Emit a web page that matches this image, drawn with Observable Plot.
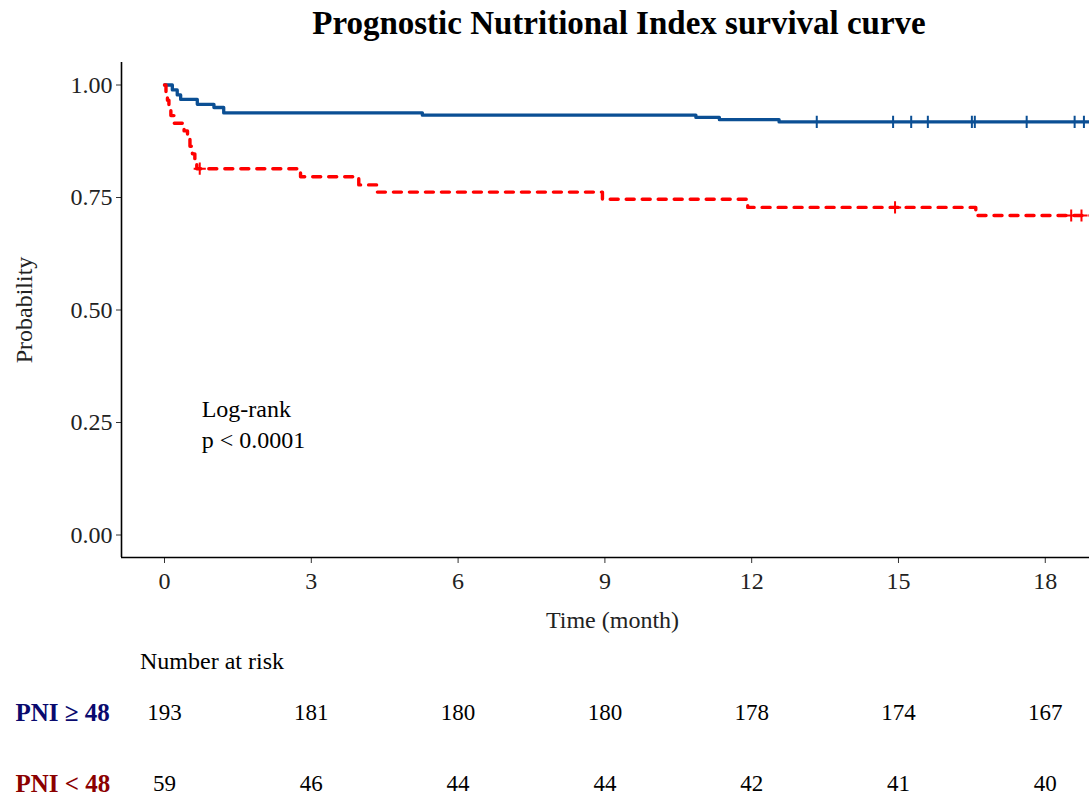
<!DOCTYPE html>
<html><head><meta charset="utf-8">
<script src="https://cdn.jsdelivr.net/npm/d3@7"></script>
<script src="https://cdn.jsdelivr.net/npm/@observablehq/plot@0.6"></script>
<style>
body{margin:0;background:#fff;overflow:hidden}
#wrap{position:relative;width:1089px;height:798px;overflow:hidden;font-family:"Liberation Serif","Times New Roman",serif;background:#fff}
#wrap svg{max-width:none !important}
#title{position:absolute;left:0;top:7px;width:1238px;text-align:center;font-weight:bold;font-size:33px;line-height:1;color:#000}
#risk{position:absolute;left:140px;top:649px;font-size:24px;line-height:1;color:#000}
#main{position:absolute;left:0;top:0;width:1103px;height:640px}
#table{position:absolute;left:0;top:640px;width:1103px;height:158px}
</style></head><body>
<div id="wrap">
  <div id="main"></div>
  <div id="title">Prognostic Nutritional Index survival curve</div>
  <div id="risk">Number at risk</div>
  <div id="table"></div>
</div>
<script>
// ---- data ----
const groups = ["PNI ≥ 48", "PNI < 48"];
const lineColors = ["#0B4F94", "#FF0000"];
const labelColors = ["#0A0A6E", "#8B0000"];

// PNI >= 48 : event times (months) and survival after each event
const highTimes = [0.16, 0.26, 0.33, 0.67, 1.01, 1.21, 5.27, 10.86, 11.34, 12.56];
const highSurv  = [0.989, 0.978, 0.968, 0.957, 0.950, 0.938, 0.933, 0.928, 0.923, 0.918];
const highCensor = [13.33, 14.89, 15.26, 15.60, 16.50, 16.56, 17.62, 18.60, 18.79];

// PNI < 48
const lowTimes = [0.03, 0.06, 0.09, 0.13, 0.20, 0.40, 0.47, 0.52, 0.57, 0.62, 0.66, 2.78, 3.97, 4.35, 8.95, 11.92, 16.58];
const lowSurv  = [0.983, 0.966, 0.949, 0.932, 0.915, 0.898, 0.881, 0.864, 0.847, 0.831, 0.814, 0.796, 0.778, 0.762, 0.746, 0.728, 0.710];
const lowCensor = [0.72, 14.93, 18.53, 18.74];

const endTime = 19.25;

const riskTimes = [0, 3, 6, 9, 12, 15, 18];
const riskHigh = [193, 181, 180, 180, 178, 174, 167];
const riskLow  = [59, 46, 44, 44, 42, 41, 40];

const xTicks = [0, 3, 6, 9, 12, 15, 18];
const yTicks = [0, 0.25, 0.5, 0.75, 1];
const xDomain = [-0.879, 19.19];
const yDomain = [-0.05, 1.05];

const annotation = [{x: 0.76, y: 0.25, text: "Log-rank\np < 0.0001"}];

// ---- build tables ----
function stepPoints(times, surv) {
  const pts = [{t: 0, s: 1}];
  times.forEach((t, i) => pts.push({t, s: surv[i]}));
  pts.push({t: endTime, s: surv[surv.length - 1]});
  return pts;
}
function survAt(times, surv, t) {
  let s = 1;
  times.forEach((tt, i) => { if (tt <= t) s = surv[i]; });
  return s;
}
const highLine = stepPoints(highTimes, highSurv);
const lowLine = stepPoints(lowTimes, lowSurv);
const highMarks = highCensor.map(t => ({t, s: survAt(highTimes, highSurv, t)}));
const lowMarks = lowCensor.map(t => ({t, s: survAt(lowTimes, lowSurv, t)}));

const W = 1103;
const font = "Liberation Serif, Times New Roman, serif";

const main = Plot.plot({
  width: W, height: 640,
  marginLeft: 121, marginRight: 0, marginTop: 62, marginBottom: 83,
  style: {fontFamily: font, fontSize: "24px", color: "#000", background: "transparent", overflow: "visible", maxWidth: "none"},
  x: {domain: xDomain},
  y: {domain: yDomain},
  marks: [
    Plot.axisX(xTicks, {tickSize: 6, tickPadding: 8, fontSize: 24, fill: "#222", stroke: "#333",
      label: "Time (month)", labelArrow: "none", labelAnchor: "center", labelOffset: 70}),
    Plot.axisY(yTicks, {tickSize: 5, tickPadding: 4, fontSize: 24, fill: "#222", stroke: "#333",
      tickFormat: d3.format(".2f"), label: "Probability", labelArrow: "none", labelAnchor: "center", labelOffset: 107}),
    Plot.ruleX([xDomain[0]], {stroke: "#000", strokeWidth: 1.6}),
    Plot.ruleY([yDomain[0]], {stroke: "#000", strokeWidth: 1.6}),
    Plot.line(highLine, {x: "t", y: "s", curve: "step-after", stroke: lineColors[0], strokeWidth: 3.3}),
    Plot.line(lowLine, {x: "t", y: "s", curve: "step-after", stroke: lineColors[1], strokeWidth: 3.4, strokeDasharray: "8,8"}),
    Plot.dot(highMarks, {x: "t", y: "s", symbol: "plus", r: 4, stroke: lineColors[0], strokeWidth: 2}),
    Plot.dot(lowMarks, {x: "t", y: "s", symbol: "plus", r: 4, stroke: lineColors[1], strokeWidth: 2}),
    Plot.text(annotation, {x: "x", y: "y", text: "text", textAnchor: "start", lineAnchor: "middle", lineHeight: 1.3, fontSize: 24, fill: "#000"})
  ]
});
document.getElementById("main").appendChild(main);

const riskData = [
  ...riskTimes.map((t, i) => ({t, g: groups[0], n: riskHigh[i]})),
  ...riskTimes.map((t, i) => ({t, g: groups[1], n: riskLow[i]}))
];

const table = Plot.plot({
  width: W, height: 158,
  marginLeft: 0, marginRight: 0, marginTop: 0, marginBottom: 0,
  style: {fontFamily: font, fontSize: "24px", color: "#000", background: "transparent", overflow: "visible", maxWidth: "none"},
  x: {domain: xDomain, range: [121, W], axis: null},
  y: {type: "point", domain: groups, range: [72, 143], padding: 0, axis: null},
  marks: [
    Plot.text(riskData, {x: "t", y: "g", text: "n", fontSize: 23, fill: "#000"}),
    Plot.text([groups[0]], {y: d => d, text: d => d, frameAnchor: "left", dx: 15, textAnchor: "start",
      fontWeight: "bold", fontSize: 25, fill: labelColors[0]}),
    Plot.text([groups[1]], {y: d => d, text: d => d, frameAnchor: "left", dx: 15, textAnchor: "start",
      fontWeight: "bold", fontSize: 25, fill: labelColors[1]})
  ]
});
document.getElementById("table").appendChild(table);
</script>
</body></html>
